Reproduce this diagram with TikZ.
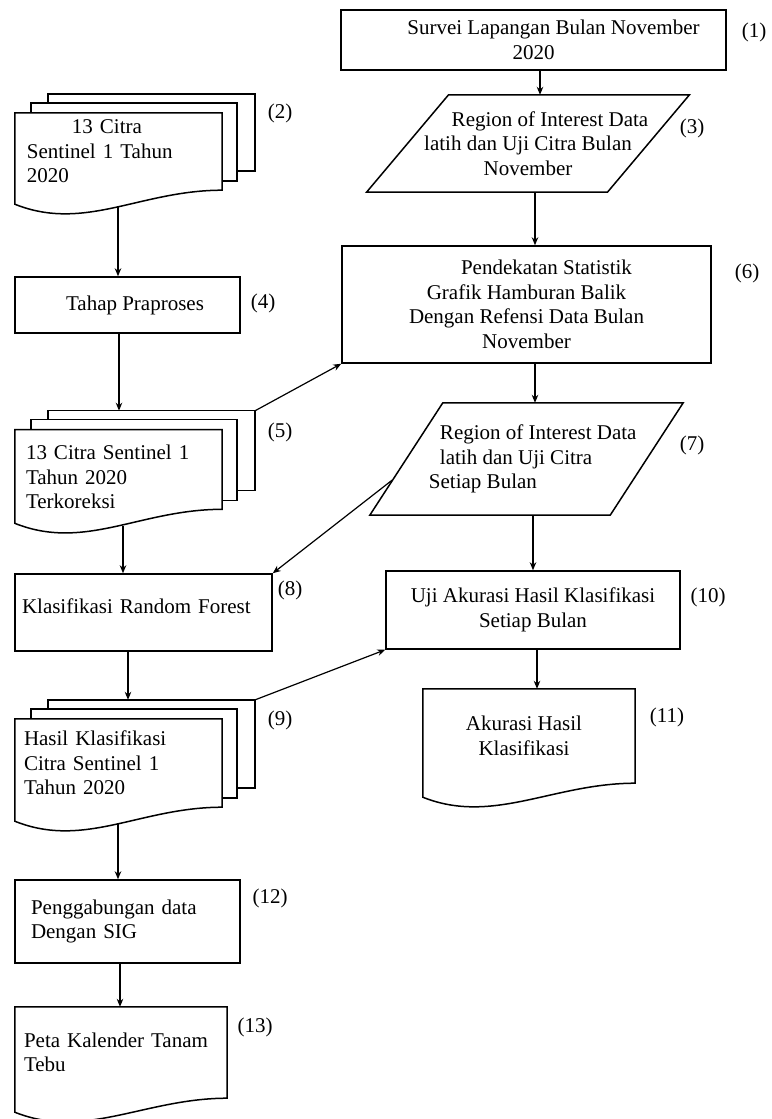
\documentclass[tikz,border=0pt]{standalone}
\usepackage{fontspec}
\setmainfont{Liberation Serif}
\usetikzlibrary{calc}
\usetikzlibrary{arrows.meta}

\begin{document}
\begin{tikzpicture}[
            x = 1pt, y = -1pt, % measured from the top left corner
            > = {Stealth[length=8pt, width=6.5pt]}, % arrow head style
            every node/.style = {font=\fontsize{21}{24.5}\selectfont, inner sep=0pt},
            figline/.style = {line width=1.5pt},
            box/.style = {draw, rectangle, line width=1.5pt, align=center},
            doc/.style = {rectangle, align=left},
            io/.style = {rectangle, align=center},
            num/.style = {},
            link/.style = {->, line width=1.2pt}
        ]

        \useasboundingbox (0,0) rectangle (771,1119);

        % right column
        \node[box, minimum width=385pt, minimum height=60pt] (survei) at (533.5,40) {\hspace*{40pt}Survei Lapangan Bulan November\\2020};
        \node[io, minimum width=238pt, minimum height=97pt] (roi1) at (528,143.5) {\hspace*{44pt}Region of Interest Data\\latih dan Uji Citra Bulan\\November};
        \node[box, minimum width=369pt, minimum height=117pt] (stat) at (526.5,304.5) {\hspace*{40pt}Pendekatan Statistik\\Grafik Hamburan Balik\\Dengan Refensi Data Bulan\\November};
        \node[io, align=left, minimum width=240pt, minimum height=112pt] (roi2) at (526.5,459) {\hspace*{23.5pt}Region of Interest Data\\\hspace*{23.5pt}latih dan Uji Citra\\\hspace*{12.5pt}Setiap Bulan};
        \node[box, minimum width=294pt, minimum height=78pt] (uji) at (533,610) {Uji Akurasi Hasil Klasifikasi\\Setiap Bulan};
        \node[doc, align=center, minimum width=212pt, minimum height=94pt] (akurasi) at (529,736) {Akurasi Hasil\hspace*{10pt}\\Klasifikasi\hspace*{10pt}};

        % left column
        \node[doc, text width=183pt, minimum width=207pt, minimum height=77pt] (citra) at (118.5,151.5) {\hspace*{45pt}13 Citra\\Sentinel 1 Tahun\\2020};
        \node[box, minimum width=225pt, minimum height=56pt] (praproses) at (127.5,305) {\hspace*{15pt}Tahap Praproses};
        \node[doc, text width=185pt, text height=30pt, minimum width=207pt, minimum height=75pt] (koreksi) at (118.5,469.5) {13 Citra Sentinel 1\\Tahun 2020\\Terkoreksi};
        \node[box, align=left, text width=243pt, text depth=13pt, minimum width=257pt, minimum height=77pt] (rf) at (143.5,612.5) {Klasifikasi Random Forest};
        \node[doc, text width=189pt, minimum width=207pt, minimum height=88pt] (hasil) at (118.5,763) {Hasil Klasifikasi\\Citra Sentinel 1\\Tahun 2020};
        \node[box, align=left, text width=193pt, minimum width=225pt, minimum height=83pt] (sig) at (127.5,921.5) {Penggabungan data\\Dengan SIG};
        \node[doc, text width=194pt, minimum width=212pt, minimum height=91pt] (peta) at (121,1052.5) {Peta Kalender Tanam\\Tebu};

        % step numbers
        \node[num] (n1) at (754,32) {(1)};
        \node[num] (n2) at (280,113) {(2)};
        \node[num] (n3) at (692,128) {(3)};
        \node[num] (n4) at (263,303) {(4)};
        \node[num] (n5) at (280,432) {(5)};
        \node[num] (n6) at (747,273) {(6)};
        \node[num] (n7) at (692,445) {(7)};
        \node[num] (n8) at (290,590) {(8)};
        \node[num] (n9) at (280,720) {(9)};
        \node[num] (n10) at (708,597) {(10)};
        \node[num] (n11) at (667,717) {(11)};
        \node[num] (n12) at (270,898) {(12)};
        \node[num] (n13) at (255,1027) {(13)};

        % data shapes
        \draw[figline] ($(roi1.north west)+(41,0)$) -- ($(roi1.north east)+(41,0)$) -- ($(roi1.south east)+(-41,0)$) -- ($(roi1.south west)+(-41,0)$) -- cycle;
        \draw[figline] ($(roi2.north west)+(36.5,0)$) -- ($(roi2.north east)+(36.5,0)$) -- ($(roi2.south east)+(-36.5,0)$) -- ($(roi2.south west)+(-36.5,0)$) -- cycle;

        % documents, wavy bottom
        \foreach \n in {citra, koreksi, hasil, akurasi, peta}
            \draw[figline] (\n.north west) -- (\n.north east) -- (\n.south east)
                .. controls ($(\n.south east)+(-82,0)$) and ($(\n.south west)+(70,42)$) .. ($(\n.south west)+(0,14)$) -- cycle;

        % pages behind
        \foreach \n in {citra, koreksi, hasil} {
            \draw[figline] ($(\n.north west)+(16,0)$) -- ++(0,-10) -| ($(\n.south east)+(15,-9)$) -- ($(\n.south east)+(0,-9)$);
            \draw[figline] ($(\n.north west)+(33,-10)$) -- ++(0,-9) -| ($(\n.south east)+(33,-19)$) -- ($(\n.south east)+(15,-19)$);
        }

        % flow
        \draw[link] ($(survei.south)+(6.5,0)$) -- ($(survei.south |- roi1.north)+(6.5,0)$);
        \draw[link] ($(stat.north |- roi1.south)+(8.5,0)$) -- ($(stat.north)+(8.5,0)$);
        \draw[link] ($(stat.south)+(8.5,0)$) -- ($(stat.south |- roi2.north)+(8.5,0)$);
        \draw[link] (uji.north |- roi2.south) -- (uji.north);
        \draw[link] ($(uji.south)+(4,0)$) -- ($(uji.south |- akurasi.north)+(4,0)$);

        \draw[link] ($(citra.south)+(-0.5,17)$) -- ($(citra.south |- praproses.north)+(-0.5,0)$);
        \draw[link] ($(koreksi.north |- praproses.south)+(0.5,0)$) -- ($(koreksi.north)+(0.5,-19)$);
        \draw[link] ($(koreksi.south)+(4.5,17)$) -- ($(koreksi.south |- rf.north)+(4.5,0)$);
        \draw[link] ($(rf.south)+(-15.5,0)$) -- ($(rf.south |- hasil.north)+(-15.5,-19)$);
        \draw[link] ($(hasil.south)+(-0.5,17)$) -- ($(hasil.south |- sig.north)+(-0.5,0)$);
        \draw[link] ($(peta.north |- sig.south)+(-1,0)$) -- ($(peta.north)+(-1,0)$);

        \draw[link] ($(koreksi.north east)+(33,-19)$) -- (stat.south west);
        \draw[link] ($(roi2.west)+(-14,21)$) -- (rf.north east);
        \draw[link] ($(hasil.north east)+(33,-19)$) -- (uji.south west);

\end{tikzpicture}
\end{document}
